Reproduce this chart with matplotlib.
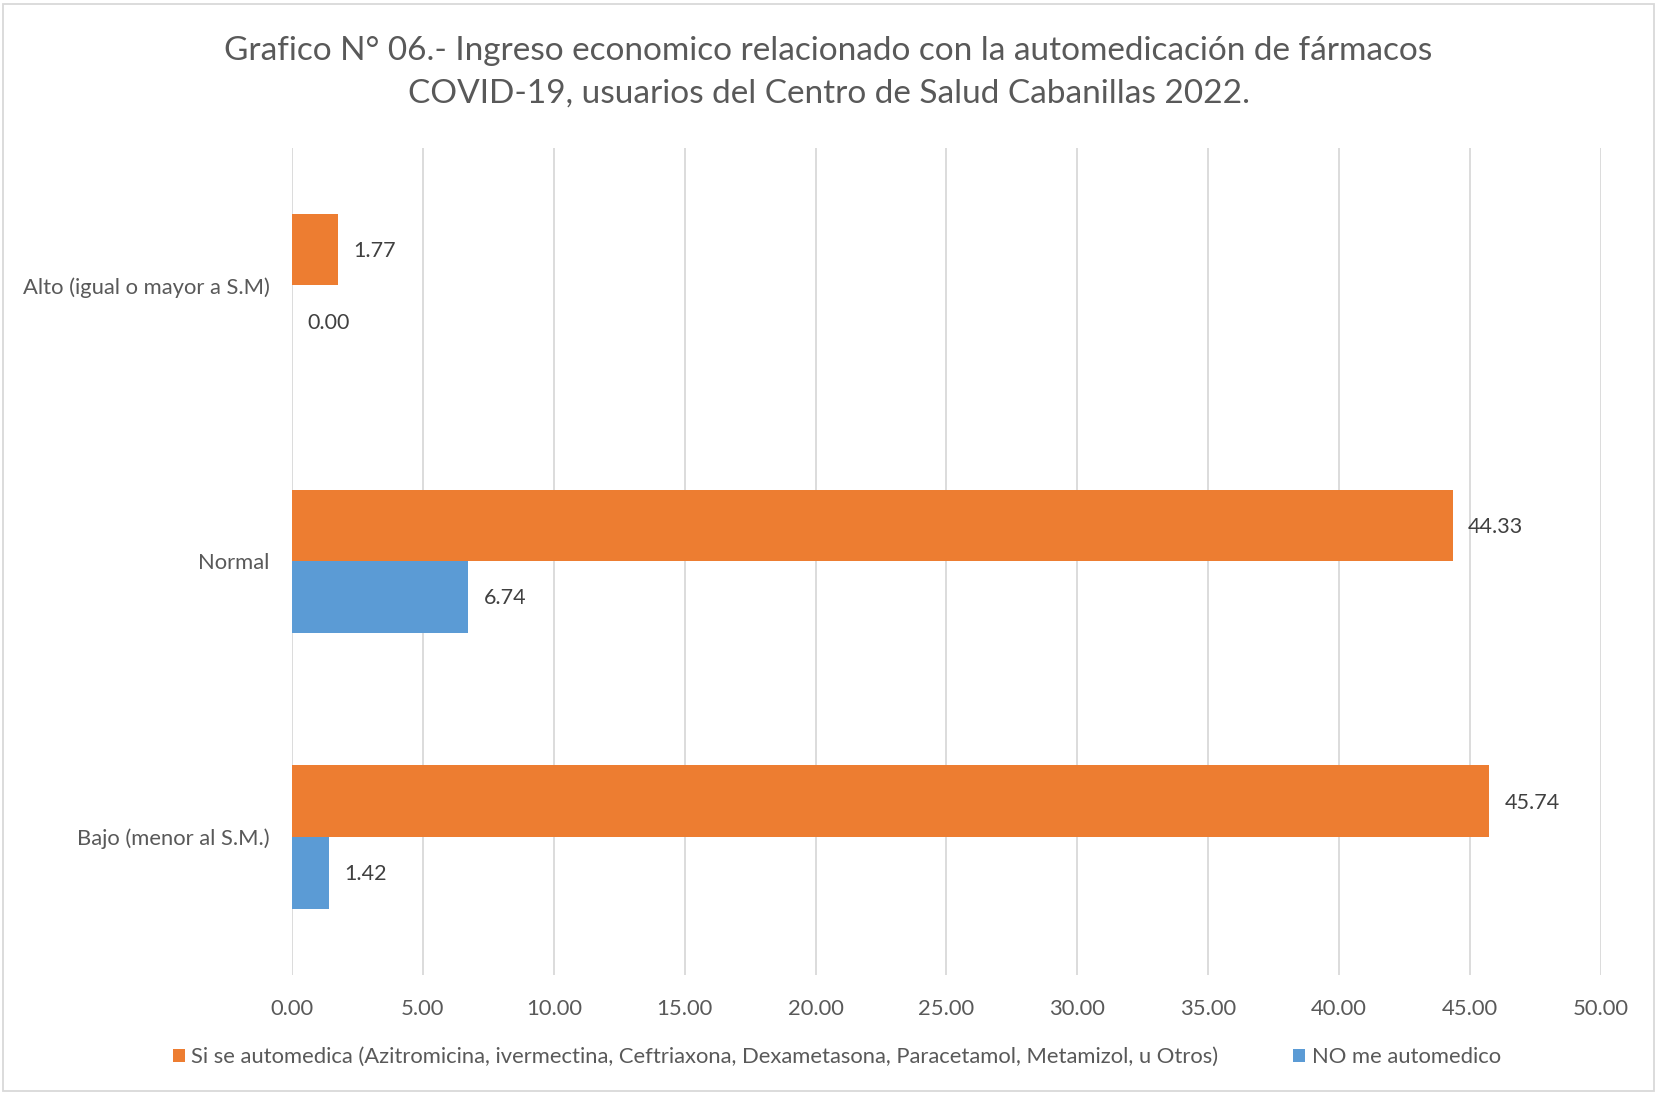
import matplotlib
matplotlib.use("Agg")
import matplotlib.pyplot as plt
from matplotlib.patches import Rectangle, Patch
import numpy as np

plt.rcParams['font.family'] = ['Lato', 'DejaVu Sans']

categories = ["Bajo (menor al S.M.)", "Normal", "Alto (igual o mayor a S.M)"]
si_values = [45.74, 44.33, 1.77]
no_values = [1.42, 6.74, 0.00]
series_names = ["Si se automedica (Azitromicina, ivermectina, Ceftriaxona, Dexametasona, Paracetamol, Metamizol, u Otros)",
                "NO me automedico"]
xticks = [0, 5, 10, 15, 20, 25, 30, 35, 40, 45, 50]
title = ("Grafico N° 06.- Ingreso economico relacionado con la automedicación de fármacos\n"
         "COVID-19, usuarios del Centro de Salud Cabanillas 2022.")

ORANGE = "#ED7D31"
BLUE = "#5B9BD5"
TXT = "#595959"
GRID = "#D9D9D9"

fig = plt.figure(figsize=(16.57, 10.93), dpi=100)
ax = fig.add_axes([0.1762, 0.108, 0.79, 0.757])

y = np.arange(len(categories))
h = 0.26
ax.barh(y + h/2, si_values, height=h, color=ORANGE, zorder=3)
ax.barh(y - h/2, no_values, height=h, color=BLUE, zorder=3)

for yi, v in zip(y + h/2, si_values):
    ax.annotate(f"{v:.2f}", (v, yi), xytext=(11, -1), textcoords="offset points",
                va="center", ha="left", fontsize=15.5, color="#404040")
for yi, v in zip(y - h/2, no_values):
    ax.annotate(f"{v:.2f}", (v, yi), xytext=(11, -1), textcoords="offset points",
                va="center", ha="left", fontsize=15.5, color="#404040")

ax.set_xlim(0, 50)
ax.set_ylim(-0.5, 2.5)
ax.set_xticks(xticks)
ax.set_xticklabels([f"{t:.2f}" for t in xticks])
ax.set_yticks(y)
ax.set_yticklabels(categories)
ax.tick_params(axis='both', length=0, labelsize=15.8, colors=TXT)
ax.tick_params(axis='x', pad=17)
ax.tick_params(axis='y', pad=16)
ax.grid(axis='x', color=GRID, linewidth=1.3, zorder=0)
for s in ax.spines.values():
    s.set_visible(False)

fig.text(0.5, 0.934, title, ha="center", va="center", fontsize=24, color=TXT, linespacing=1.5)

handles = [Patch(facecolor=ORANGE), Patch(facecolor=BLUE)]
fig.legend(handles, series_names, loc="center", bbox_to_anchor=(0.505, 0.033), ncol=2,
           frameon=False, fontsize=15.8, labelcolor=TXT, handlelength=0.55, handleheight=0.55,
           handletextpad=0.3, columnspacing=3.4)

fig.patches.append(Rectangle((0.002, 0.002), 0.996, 0.994, transform=fig.transFigure,
                             fill=False, edgecolor="#D9D9D9", linewidth=1.3))

fig.savefig("out.png", dpi=100)
